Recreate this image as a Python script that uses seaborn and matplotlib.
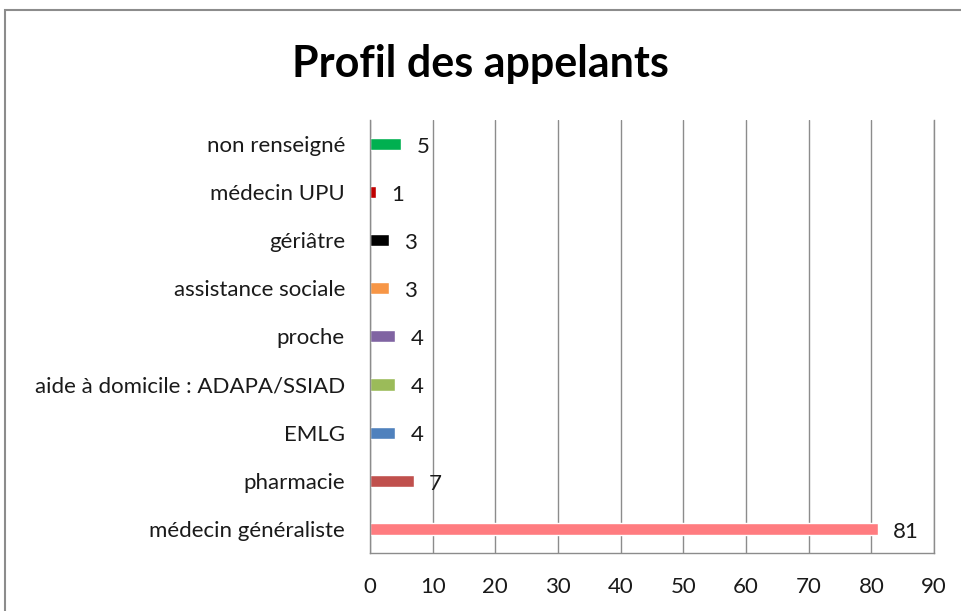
import matplotlib
matplotlib.use("Agg")
import matplotlib.pyplot as plt
import seaborn as sns
import pandas as pd
from matplotlib.patches import Rectangle

# data, top to bottom as in the chart
categories = ["non renseigné", "médecin UPU", "gériâtre", "assistance sociale", "proche",
              "aide à domicile : ADAPA/SSIAD", "EMLG", "pharmacie", "médecin généraliste"]
values = [5, 1, 3, 3, 4, 4, 4, 7, 81]
colors = ["#00B050", "#C00000", "#000000", "#F79646", "#8064A2",
          "#9BBB59", "#4F81BD", "#C0504D", "#FF7C80"]
xticks = list(range(0, 100, 10))

df = pd.DataFrame({"profil": categories, "n": values})

sns.set_style("white")
plt.rcParams["font.family"] = ["Lato", "DejaVu Sans"]
plt.rcParams["text.color"] = "#1a1a1a"
plt.rcParams["xtick.color"] = "#1a1a1a"
plt.rcParams["ytick.color"] = "#1a1a1a"

fig = plt.figure(figsize=(9.61, 6.11), dpi=100)
ax = fig.add_axes([0.385, 0.095, 0.587, 0.709])

sns.barplot(data=df, y="profil", x="n", hue="profil", palette=colors,
            order=categories, hue_order=categories, width=0.25,
            legend=False, ax=ax, saturation=1)

for i, v in enumerate(values):
    ax.annotate(str(v), (v, i), xytext=(11, -2), textcoords="offset points",
                va="center", ha="left", fontsize=16, color="#1a1a1a")

ax.set_xlim(0, 90)
ax.set_xticks(xticks)
ax.set_xticklabels([str(t) for t in xticks], fontsize=16)
ax.tick_params(axis="y", labelsize=16, length=0, pad=18)
ax.tick_params(axis="x", length=0, pad=17)
ax.set_xlabel("")
ax.set_ylabel("")
ax.xaxis.grid(True, color="#8c8c8c", linewidth=1)
ax.set_axisbelow(True)
ax.spines["top"].set_visible(False)
for s in ["left", "bottom", "right"]:
    ax.spines[s].set_color("#8c8c8c")
    ax.spines[s].set_linewidth(1)

fig.suptitle("Profil des appelants", fontsize=31, fontweight="bold", y=0.928, color="black")

# chart frame (partly cut off on the original)
fig.patches.append(Rectangle((0.005, -0.1), 1.2, 1.083, transform=fig.transFigure,
                             fill=False, edgecolor="#8c8c8c", linewidth=1.5))

fig.savefig("out.png", dpi=100)
